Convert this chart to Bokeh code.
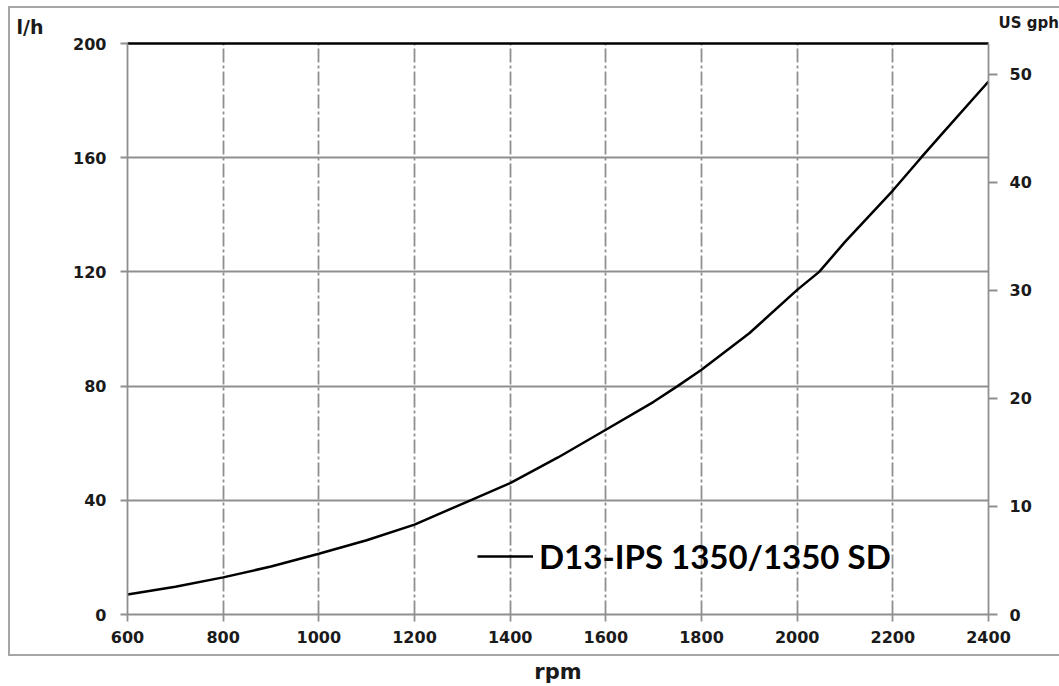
from bokeh.plotting import figure
from bokeh.models import (Range1d, LinearAxis, FixedTicker, Title, Legend, LegendItem,
                          InlineStyleSheet)
from bokeh.embed import file_html
from bokeh.resources import INLINE

# ---- data ----
rpm = [600, 700, 800, 900, 1000, 1100, 1200, 1317, 1400, 1500, 1600, 1700, 1750,
       1800, 1900, 2000, 2046, 2100, 2200, 2259, 2300, 2400]
flow_lh = [7, 9.7, 13, 16.8, 21.3, 26, 31.5, 40, 46, 55, 64.7, 74.5, 80,
           85.7, 98.5, 113.7, 120, 130.5, 148.5, 160, 167.8, 186.7]
x_ticks = [600, 800, 1000, 1200, 1400, 1600, 1800, 2000, 2200, 2400]
y_ticks = [0, 40, 80, 120, 160, 200]
gal_ticks = [0, 10, 20, 30, 40, 50]
series_name = "D13-IPS 1350/1350 SD"
left_unit = "l/h"
right_unit = "US gph"
x_title = "rpm"
L_PER_USGAL = 3.785

FONT = "DejaVu Sans"
TXT = "#1a1a1a"
GRID = "#8f8f8f"

border_css = InlineStyleSheet(css="""
:host { position: relative; }
:host::after {
  content: ''; position: absolute; left: 8px; top: 6px; right: 0px; height: 650px;
  border: 2px solid #a6a6a6; border-right: none; box-sizing: border-box;
  pointer-events: none;
}
""")

p = figure(width=1059, height=686, output_backend="svg", toolbar_location=None,
           x_range=Range1d(600, 2400), y_range=Range1d(0, 200),
           min_border_left=127, min_border_right=71, min_border_top=42,
           min_border_bottom=71, background_fill_color="white",
           border_fill_color="white", stylesheets=[border_css])
p.outline_line_color = None
p.extra_y_ranges = {"gal": Range1d(0, 200 / L_PER_USGAL)}

# grid
p.xgrid.ticker = FixedTicker(ticks=x_ticks)
p.ygrid.ticker = FixedTicker(ticks=y_ticks)
p.xgrid.grid_line_color = GRID
p.xgrid.grid_line_width = 1.8
p.xgrid.grid_line_dash = "14 3 3 3"
p.ygrid.grid_line_color = GRID
p.ygrid.grid_line_width = 1.8

def style_axis(ax, tick_out, standoff):
    ax.axis_line_color = GRID
    ax.axis_line_width = 1.8
    ax.major_tick_line_color = GRID
    ax.major_tick_line_width = 1.8
    ax.major_tick_out = tick_out
    ax.major_tick_in = 0
    ax.minor_tick_line_color = None
    ax.major_label_text_font = FONT
    ax.major_label_text_font_style = "bold"
    ax.major_label_text_font_size = "16px"
    ax.major_label_text_color = TXT
    ax.major_label_standoff = standoff

# bottom axis
xa = p.xaxis[0]
xa.ticker = FixedTicker(ticks=x_ticks)
style_axis(xa, 7, 9)
xa.axis_label = x_title
xa.axis_label_text_font = FONT
xa.axis_label_text_font_style = "bold"
xa.axis_label_text_font_size = "21px"
xa.axis_label_text_color = TXT
xa.axis_label_standoff = 14

# left axis
ya = p.yaxis[0]
ya.ticker = FixedTicker(ticks=y_ticks)
style_axis(ya, 7, 14)

# right axis (US gallons)
ra = LinearAxis(y_range_name="gal", ticker=FixedTicker(ticks=gal_ticks))
style_axis(ra, 9, 12)
p.add_layout(ra, "right")

# top black frame line
ta = LinearAxis(ticker=FixedTicker(ticks=[]))
ta.axis_line_color = "black"
ta.axis_line_width = 2.5
ta.major_tick_line_color = None
ta.minor_tick_line_color = None
ta.major_label_text_font_size = "0px"
p.add_layout(ta, "above")

# unit titles at top-left / top-right
t_us = Title(text=right_unit, align="left", offset=871, standoff=23,
             text_font=FONT, text_font_style="bold", text_font_size="15px",
             text_color=TXT)
p.add_layout(t_us, "above")
t_lh = Title(text=left_unit, align="left", offset=-111, standoff=-75,
             text_font=FONT, text_font_style="bold", text_font_size="19px",
             text_color=TXT)
p.add_layout(t_lh, "above")

# curve
r = p.line(rpm, flow_lh, line_color="black", line_width=2.5)

legend = Legend(items=[LegendItem(label=series_name, renderers=[r])],
                location=(350, 38), orientation="vertical")
legend.glyph_width = 56
legend.label_standoff = 6
legend.padding = 0
legend.margin = 0
legend.border_line_color = None
legend.background_fill_alpha = 0
legend.label_text_font = "Lato"
legend.label_text_font_style = "bold"
legend.label_text_font_size = "33px"
legend.label_text_color = "black"
legend.label_height = 40
legend.glyph_height = 40
p.add_layout(legend, "center")

open("out.html", "w").write(file_html(p, INLINE))
